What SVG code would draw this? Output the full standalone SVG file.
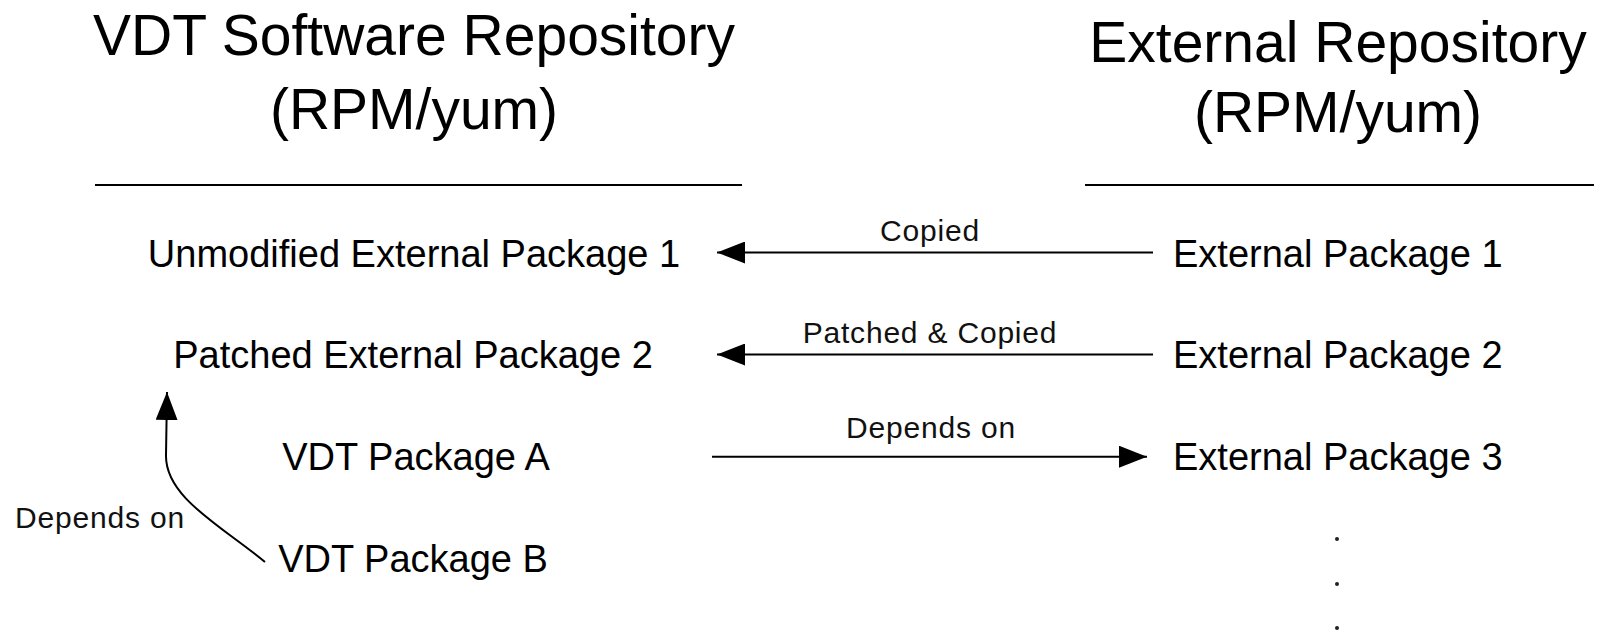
<svg xmlns="http://www.w3.org/2000/svg" width="1600" height="637" viewBox="0 0 1600 637">
  <style>
    .title { font-family: "Liberation Sans", Arial, sans-serif; font-size: 57px; fill: #000; text-anchor: middle; }
    .pkg { font-family: "Liberation Sans", Arial, sans-serif; font-size: 38px; fill: #000; }
    .lbl { font-family: "Liberation Sans", Arial, sans-serif; font-size: 30px; letter-spacing: 0.8px; fill: #111; text-anchor: middle; }
    .rule { stroke: #000; stroke-width: 2; }
    .edge { stroke: #000; stroke-width: 2; fill: none; marker-end: url(#arrow); }
  </style>
  <defs>
    <marker id="arrow" markerUnits="userSpaceOnUse" markerWidth="28" markerHeight="22" refX="28" refY="11" orient="auto">
      <path d="M0,0 L28,11 L0,22 z" fill="#000"/>
    </marker>
  </defs>
  <rect width="1600" height="637" fill="#fff"/>

  <g id="vdt-repo-header">
    <text class="title" x="414" y="55">VDT Software Repository</text>
    <text class="title" x="414" y="129">(RPM/yum)</text>
    <line class="rule" x1="95" y1="185" x2="742" y2="185"/>
  </g>
  <g id="ext-repo-header">
    <text class="title" x="1338" y="62">External Repository</text>
    <text class="title" x="1338" y="132">(RPM/yum)</text>
    <line class="rule" x1="1085" y1="185" x2="1594" y2="185"/>
  </g>

  <g id="unmodified-ext-pkg-1"><text class="pkg" x="414" y="267" text-anchor="middle">Unmodified External Package 1</text></g>
  <g id="patched-ext-pkg-2"><text class="pkg" x="413" y="368" text-anchor="middle">Patched External Package 2</text></g>
  <g id="vdt-pkg-a"><text class="pkg" x="416" y="470" text-anchor="middle">VDT Package A</text></g>
  <g id="vdt-pkg-b"><text class="pkg" x="413" y="572" text-anchor="middle">VDT Package B</text></g>

  <g id="ext-pkg-1"><text class="pkg" x="1173" y="267">External Package 1</text></g>
  <g id="ext-pkg-2"><text class="pkg" x="1173" y="368">External Package 2</text></g>
  <g id="ext-pkg-3"><text class="pkg" x="1173" y="470">External Package 3</text></g>

  <g id="ellipsis" fill="#222">
    <circle cx="1337" cy="539" r="2"/>
    <circle cx="1337" cy="584" r="2"/>
    <circle cx="1337" cy="628" r="2"/>
  </g>

  <g id="connectors">
    <line class="edge" x1="1153" y1="252.5" x2="717" y2="252.5"/>
    <text class="lbl" x="930" y="241">Copied</text>
    <line class="edge" x1="1153" y1="354.5" x2="717" y2="354.5"/>
    <text class="lbl" x="930" y="343">Patched &amp; Copied</text>
    <line class="edge" x1="712" y1="456.7" x2="1147" y2="456.7"/>
    <text class="lbl" x="931" y="438">Depends on</text>
    <path class="edge" d="M265,562 C220,525 165,497 166,455 L167,392"/>
    <text class="lbl" x="100" y="528">Depends on</text>
  </g>
</svg>
